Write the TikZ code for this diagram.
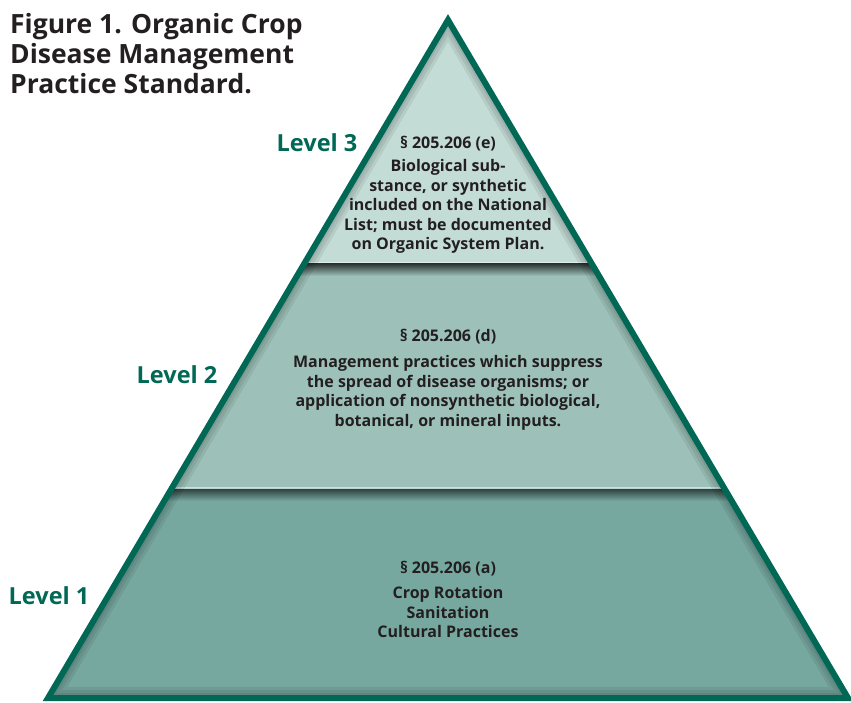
\documentclass[tikz,border=0pt]{standalone}
\usepackage{fontspec}
\setmainfont{Open Sans}
\usetikzlibrary{positioning}
\definecolor{pyrline}{RGB}{0,104,84}
\definecolor{bandthree}{RGB}{196,220,214}
\definecolor{bandtwo}{RGB}{157,193,185}
\definecolor{bandone}{RGB}{119,168,160}
\definecolor{pyrtext}{RGB}{35,31,32}

\begin{document}
\begin{tikzpicture}[x=1pt,y=-1pt]
        \tikzstyle{level}=[text=pyrline,font=\fontsize{23.5}{27}\selectfont\bfseries]
        \tikzstyle{band}=[text=pyrtext,align=center,font=\fontsize{16}{19.5}\selectfont\bfseries,inner sep=0pt]
        \useasboundingbox (0,0) rectangle (851,703);
        \coordinate (top) at (448,20);
        \coordinate (bl) at (48,698);
        \coordinate (br) at (848,698);
        % bands
        \begin{scope}
        \clip (top) -- (bl) -- (br) -- cycle;
        \fill[bandthree] (0,0) rectangle (851,263);
        \fill[bandtwo] (0,263) rectangle (851,488);
        \fill[bandone] (0,488) rectangle (851,703);
        \fill[white,opacity=0.5] (0,262) rectangle (851,264);
        \fill[white,opacity=0.5] (0,487) rectangle (851,489);
        \shade[top color=black!70!bandtwo,bottom color=bandtwo] (0,264) rectangle (851,276);
        \shade[top color=black!60!bandone,bottom color=bandone] (0,489) rectangle (851,501);
        % inner shadow along the edges
        \foreach \w in {22,16,10}
            \draw[black,opacity=0.07,line width=\w pt] (top) -- (bl) -- (br) -- cycle;
        \end{scope}
        \draw[pyrline,line width=6pt,line join=miter] (top) -- (bl) -- (br) -- cycle;

        \node[anchor=north west,align=left,text=pyrtext,inner sep=0pt,
              font=\fontsize{26.5}{30}\selectfont\bfseries] (title) at (10,13)
              {Figure 1. Organic Crop\\Disease Management\\Practice Standard.};
        \node[level] (lvlthree) at (317,143) {Level 3};
        \node[level] (lvltwo) at (177,375) {Level 2};
        \node[level] (lvlone) at (49,596) {Level 1};

        \node[band,anchor=north] (secthree) at (448,136) {§ 205.206 (e)};
        \node[band,anchor=north,below=8pt of secthree] (txtthree)
              {Biological sub-\\stance, or synthetic\\included on the National\\List; must be documented\\on Organic System Plan.};
        \node[band,anchor=north] (sectwo) at (448,329) {§ 205.206 (d)};
        \node[band,anchor=north,below=11pt of sectwo] (txttwo)
              {Management practices which suppress\\the spread of disease organisms; or\\application of nonsynthetic biological,\\botanical, or mineral inputs.};
        \node[band,anchor=north] (secone) at (448,561) {§ 205.206 (a)};
        \node[band,anchor=north,below=10pt of secone] (txtone)
              {Crop Rotation\\Sanitation\\Cultural Practices};
\end{tikzpicture}
\end{document}
